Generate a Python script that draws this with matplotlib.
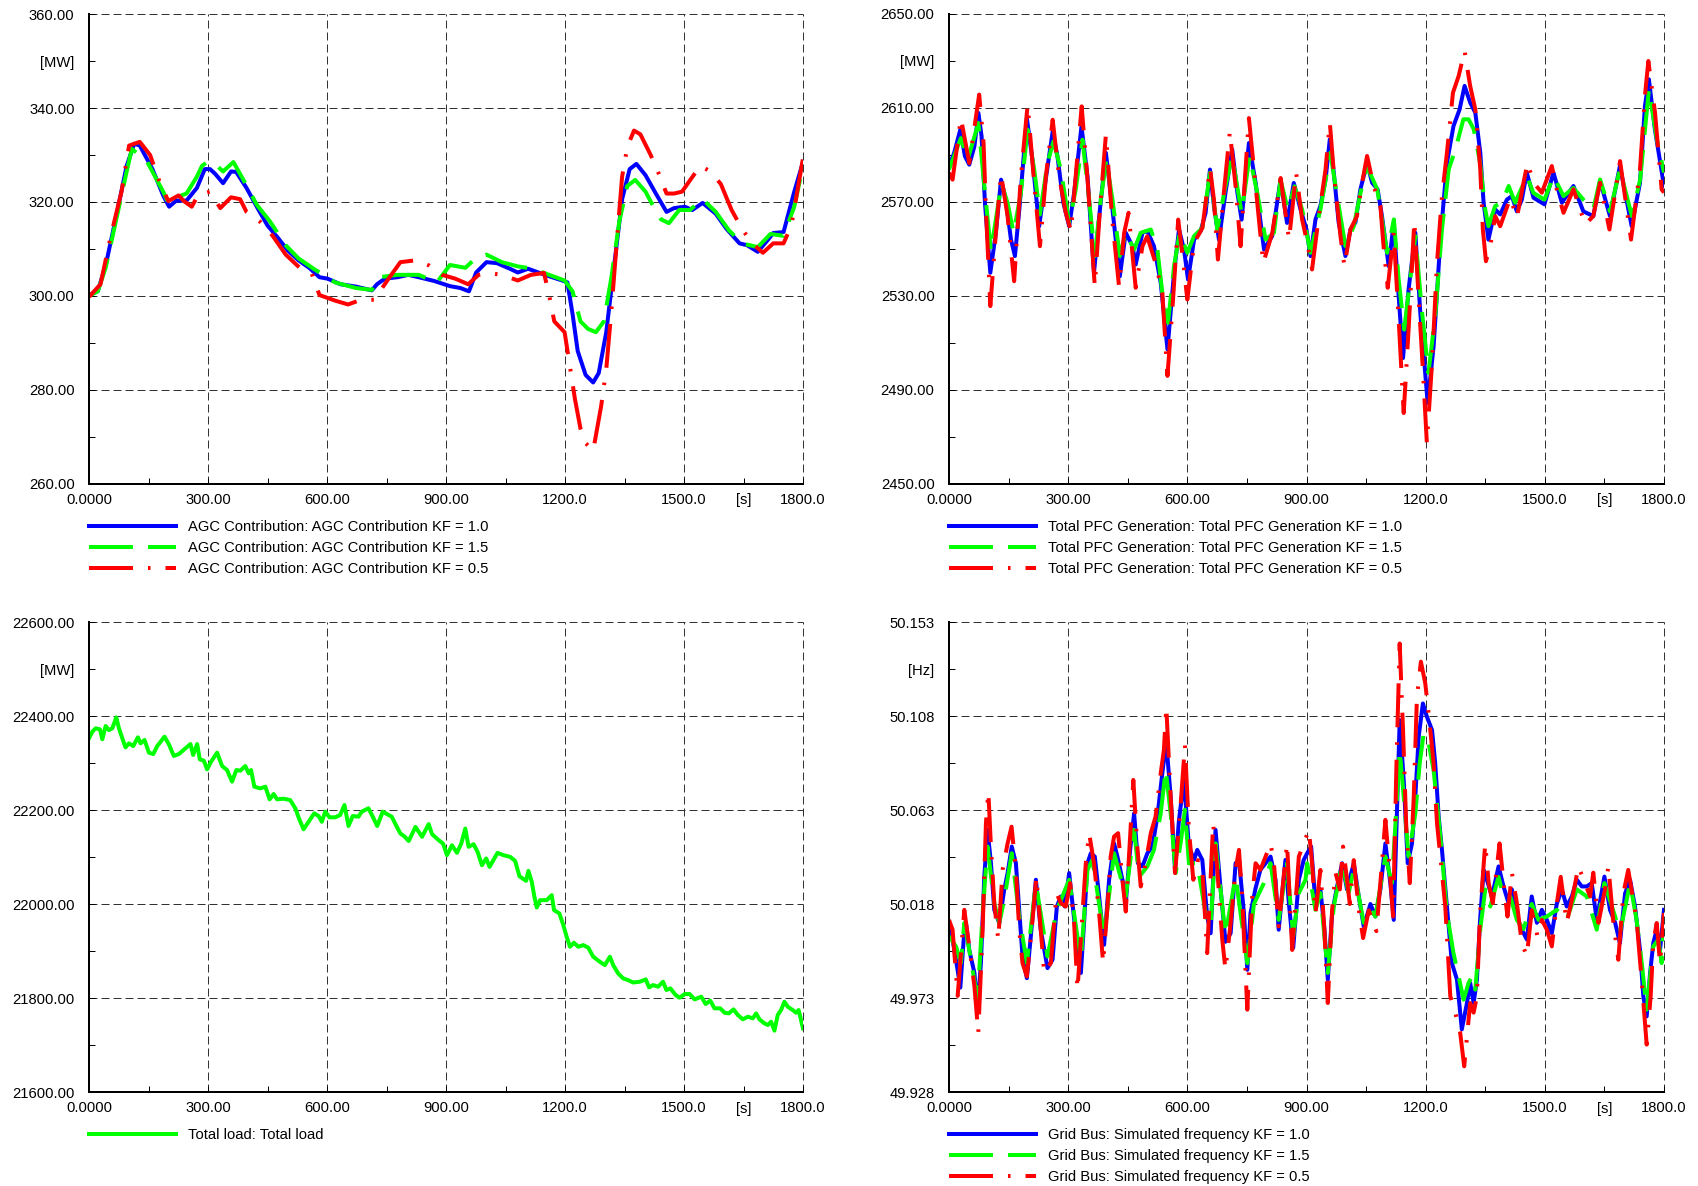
import matplotlib
matplotlib.use("Agg")
import matplotlib.pyplot as plt

plt.rcParams['font.family'] = ['Liberation Sans', 'DejaVu Sans']
plt.rcParams['lines.scale_dashes'] = False

# ---------------- common x axis ----------------
x_ticks = [0, 300, 600, 900, 1200, 1500, 1800]
x_tick_labels = ["0.0000", "300.00", "600.00", "900.00", "1200.0", "1500.0", "1800.0"]
x_minor = [150, 450, 750, 1050, 1350, 1650]
x_minor_labels = ["", "", "", "", "", "[s]"]

# ---------------- AGC contribution (top-left) ----------------
agc_t_10 = [0, 22, 42, 68, 95, 114, 128, 160, 187, 202, 220, 246, 272, 292, 305, 318, 338, 358, 371, 397,
            423, 450, 476, 502, 528, 555, 581, 601, 634, 673, 713, 726, 746, 778, 805, 831, 870, 910, 936, 958,
            976, 1002, 1028, 1061, 1081, 1107, 1133, 1160, 1193, 1206, 1219, 1232, 1252, 1271, 1285, 1304, 1324,
            1344, 1363, 1380, 1403, 1429, 1456, 1475, 1502, 1521, 1547, 1580, 1607, 1640, 1659, 1686, 1712, 1725,
            1751, 1778, 1800]
agc_kf10 = [300.2, 301, 306.5, 316.7, 327.7, 332.4, 332, 327, 321.4, 319, 320.3, 320.3, 323, 327, 327, 326, 324,
            326.5, 326.4, 323, 319, 315, 312.4, 309.6, 307.6, 306, 304, 303.7, 302.5, 302, 301.2, 302.5, 303.7, 304,
            304.5, 304, 303.2, 302.1, 301.7, 301, 305, 307.2, 307, 305.8, 305, 305.8, 305, 304.2, 303.3, 302.9,
            296.2, 288.3, 283.2, 281.6, 283.6, 292.3, 306.5, 320.6, 327, 328.1, 325.7, 321.8, 317.9, 318.7, 319,
            318.3, 319.8, 317.5, 314.3, 311.2, 310.8, 309.4, 312, 313.4, 313.6, 322.2, 328.5]
agc_t_15 = [0, 22, 42, 68, 95, 108, 147, 187, 200, 220, 246, 272, 285, 298, 312, 338, 364, 390, 423, 456, 496,
            528, 568, 620, 673, 713, 732, 778, 831, 877, 910, 949, 969, 1002, 1041, 1081, 1120, 1160, 1199, 1219,
            1239, 1258, 1278, 1298, 1317, 1337, 1357, 1377, 1403, 1423, 1442, 1462, 1488, 1515, 1547, 1580, 1613,
            1646, 1686, 1718, 1751, 1778, 1800]
agc_kf15 = [300, 301, 306, 316, 326.5, 331.3, 328.5, 322.2, 319.8, 321, 321.8, 325.4, 327.7, 328.5, 328.5, 326.5,
            328.5, 324.6, 319.4, 315.9, 310.8, 308, 305.7, 302.9, 301.7, 301.3, 304, 304.5, 304.5, 302.9, 306.6,
            306, 307.6, 308.8, 307.2, 306.3, 305.8, 304.5, 303.3, 301, 294.6, 293, 292.3, 294.6, 304, 315.9, 323.4,
            324.7, 322.2, 319, 316.3, 315.5, 318.3, 318.3, 320.6, 317.9, 314, 311.2, 310.4, 313.2, 312.8, 319, 327.7]
agc_t_05 = [0, 29, 55, 82, 101, 128, 154, 180, 200, 226, 239, 259, 276, 305, 331, 358, 381, 397, 430, 463, 496,
            535, 561, 581, 621, 653, 686, 719, 752, 785, 824, 857, 890, 923, 956, 982, 1008, 1041, 1081, 1114,
            1147, 1160, 1173, 1199, 1212, 1225, 1239, 1252, 1271, 1291, 1304, 1317, 1331, 1344, 1357, 1374, 1390,
            1416, 1436, 1456, 1475, 1495, 1515, 1541, 1567, 1593, 1620, 1646, 1672, 1699, 1725, 1751, 1771, 1800]
agc_kf05 = [299.8, 302.5, 312.8, 322.2, 332, 332.8, 330, 323.8, 320.2, 321.4, 320.2, 319, 321.6, 322.2, 318.7, 321,
            320.6, 317.9, 315.9, 312.8, 308.8, 305.7, 304.9, 300.2, 299, 298.2, 299.2, 299.2, 303.3, 307.2, 307.6,
            306.5, 304.5, 303.7, 302.5, 304.5, 304.9, 304.5, 303.3, 304.5, 304.9, 300.2, 294.6, 292.3, 285.2, 278.1,
            271.8, 268.7, 267.1, 276.5, 284.4, 297, 312, 325.4, 331.7, 335.2, 334.4, 330, 326.1, 321.8, 321.8,
            322.2, 324.6, 327.7, 326.5, 323.8, 318.3, 314.3, 311.2, 309.2, 311.2, 311.2, 315.1, 329.3]

# ---------------- Total PFC generation (top-right) ----------------
pfc_t_10 = [0, 13, 28.5, 40, 51, 64, 74, 82, 90.5, 104, 118, 131, 143, 156, 166, 177, 196, 210, 227, 241, 261,
            273, 288, 302.5, 315, 333.5, 348.6, 365, 380, 395, 411.5, 430, 445, 462, 470, 487, 499.5, 516, 533,
            550, 566.5, 579, 591.6, 601.7, 617, 633.5, 646, 657, 667, 679.6, 696, 713, 726, 736.6, 755, 772, 793,
            813.7, 834.6, 851, 868, 885,
            900, 910, 922.6, 935, 948, 958.7, 968.7, 981, 998, 1010.6, 1023, 1035.7, 1052.5, 1065, 1079, 1090,
            1107, 1119.5, 1132, 1143, 1157, 1174, 1186.5, 1205, 1220, 1237, 1253.6, 1270, 1285.4, 1298, 1312, 1325,
            1337.5, 1345.8, 1358, 1375, 1387.7, 1404.4, 1417, 1429.6, 1442, 1454.7, 1471.5, 1499, 1521.8, 1542.8,
            1572, 1597, 1622, 1639, 1664, 1689, 1718.6, 1739.6, 1752, 1762, 1777, 1800]
pfc_kf10 = [2585.2, 2590.9, 2600.8, 2589.5, 2585.9, 2593.7, 2607.9, 2598, 2569.6, 2539.9, 2556.9, 2579.5, 2571,
            2554, 2547, 2566.8, 2605.7, 2588, 2559.7, 2576.7, 2600, 2589.5, 2569.6, 2559.7, 2573.9, 2602.2, 2581,
            2539.9, 2566.8, 2590.9, 2566.8, 2538.4, 2556.9, 2551.2, 2543.4, 2556.9, 2557.6, 2551.2, 2535.6, 2507.3,
            2539.9, 2558.3, 2549.8, 2537, 2554, 2557.6, 2565.4, 2583.8, 2568.2, 2554, 2573.9, 2592.3, 2573.9, 2562.5,
            2595.1, 2578.1, 2549.8, 2555.5, 2579.5, 2561.1, 2578.1, 2566.8,
            2558.3, 2547, 2562.6, 2568.3, 2579.6, 2596.7, 2582.5, 2561.2, 2547, 2558.3, 2561.2, 2575.4, 2586.7,
            2578.2, 2575.4, 2564, 2542.7, 2561.2, 2530, 2503.6, 2532.8, 2556.9, 2522.8, 2484.5, 2508.6, 2554,
            2586.7, 2602.3, 2609.4, 2619.4, 2612.3, 2608, 2591, 2569.7, 2554, 2566.8, 2564.7, 2571, 2572.5, 2566,
            2571, 2582.5, 2571.8, 2569, 2582.5, 2569.7, 2576.8, 2566, 2564, 2578.9, 2564, 2585.3, 2559.7, 2578.2,
            2610.9, 2622.2, 2601, 2576.8]
pfc_t_15 = [0, 30, 47, 74, 89, 105.6, 132, 147.5, 162.6, 181, 197.8, 214.5, 228.8, 248, 263, 281.6, 302.5, 319,
            336, 352.8, 367, 382, 396, 411.5, 430, 445, 466, 482.7, 508, 524.6, 537, 551.4, 566.5, 580.7, 600, 617,
            637.7, 657, 675.4, 696, 713, 736.6, 756.7, 776, 797, 818, 834.6, 853, 870, 889,
            910, 935, 960, 977, 998, 1019, 1036, 1052, 1078, 1103, 1120, 1132, 1146, 1161, 1174, 1191, 1207, 1224,
            1241, 1258, 1275, 1295, 1308, 1321, 1337, 1350, 1358, 1375, 1392, 1409, 1425, 1455, 1471, 1499, 1522,
            1547, 1572, 1597, 1622, 1639, 1664, 1689, 1719, 1740, 1762, 1782, 1800]
pfc_kf15 = [2583.8, 2597.2, 2588, 2603.6, 2576.7, 2549, 2578, 2569.6, 2556.9, 2573.9, 2600.8, 2583.8, 2564.7,
            2586.6, 2595.8, 2583.8, 2561, 2575.3, 2596.5, 2571, 2547, 2571, 2588, 2571, 2547, 2556.9, 2549.8,
            2556.9, 2558.3, 2549.8, 2531.4, 2518.6, 2542.7, 2556.9, 2548.4, 2555.5, 2559, 2582.4, 2558.3, 2576.7,
            2589.5, 2565.4, 2589.5, 2573.9, 2554, 2556.9, 2579.5, 2566.8, 2576.7, 2566.8,
            2548.4, 2566.8, 2591, 2572.5, 2551.2, 2559.7, 2573.9, 2585.3, 2575.4, 2548.4, 2562.6, 2537, 2515.7,
            2537, 2555.5, 2522.8, 2497.3, 2521.4, 2558.3, 2583.9, 2592.4, 2605.2, 2605.2, 2601, 2586.7, 2566.8,
            2559.7, 2568.3, 2569.7, 2576.8, 2569.7, 2581, 2573.9, 2571, 2581, 2572.5, 2576, 2571, 2566.8, 2579.6,
            2566, 2583.9, 2564, 2579.6, 2618, 2596.7, 2582.5]
pfc_t_05 = [0, 9, 30, 51, 76, 87, 93, 104, 118, 131, 147.5, 164, 181, 198, 213, 229, 244, 261, 277, 294, 307,
            319, 334, 350, 367, 380, 395, 411, 428, 441, 452, 470, 487, 499, 520, 537, 550, 564, 577, 590, 600, 617,
            638, 657, 667, 677, 692, 707, 721.5, 734, 755, 772, 791, 814, 835, 856, 874, 889,
            902, 914, 931, 948, 958.7, 968.7, 985.5, 995.5, 1010.6, 1027, 1040, 1052.5, 1069, 1086, 1094, 1104.5,
            1119.6, 1132, 1144.7, 1157, 1171.5, 1182, 1193, 1203, 1216, 1228.5, 1241, 1253.6, 1268.7, 1283, 1298,
            1312, 1325, 1337.5, 1344, 1351.7, 1362.6, 1375, 1387.7, 1413, 1429.6, 1444.7, 1456.4, 1471.5, 1492.5,
            1517.6, 1530, 1547, 1572, 1601.4, 1622, 1639, 1662.6, 1689.4, 1717, 1739.6, 1752, 1760.6, 1777.4, 1794,
            1800]
pfc_kf05 = [2582.4, 2579.5, 2605.7, 2586.6, 2615.7, 2595, 2566.8, 2525.7, 2556.9, 2581.7, 2564, 2536.3, 2581,
            2611.4, 2581, 2551.2, 2581, 2605, 2581, 2565.4, 2557.6, 2581, 2610.7, 2576.7, 2534.2, 2566.8, 2598.7,
            2562.5, 2534.2, 2556.9, 2565.4, 2533.5, 2551.2, 2555.4, 2544, 2531.4, 2496, 2528.5, 2562.5, 2544,
            2528.5, 2552.6, 2559, 2584.5, 2571, 2545.5, 2573.9, 2600, 2576.7, 2551.2, 2605.7, 2576.7, 2544, 2556.9,
            2580.2, 2554, 2582.4, 2562.5,
            2552.6, 2541.3, 2564, 2583.9, 2603.8, 2582.5, 2555.5, 2542.7, 2558.3, 2564, 2578.2, 2589.6, 2576.8,
            2568.3, 2551.2, 2533.5, 2556.9, 2520, 2480.2, 2515.7, 2561.9, 2529.9, 2498.7, 2467.4, 2501.5, 2544.1,
            2572.5, 2591, 2616.5, 2623.6, 2634.3, 2619.4, 2609.4, 2583.9, 2558.3, 2544.8, 2551.2, 2564, 2559.7,
            2571.8, 2563.3, 2576.8, 2586.7, 2578.2, 2574, 2585.3, 2575.4, 2565.4, 2575.4, 2560.4, 2564, 2578.2,
            2558.3, 2587.4, 2554, 2583.9, 2615.1, 2630, 2608, 2575.4, 2574]

# ---------------- Total load (bottom-left) ----------------
load_t = [0, 8.4, 16.8, 27.7, 33.5, 42, 50.3, 58.7, 68.8, 75.5, 84, 92, 100.6, 111.5, 123.3, 130, 140, 151, 161.9,
          172, 190.4, 201, 213.9, 226.4, 243, 255.8, 262.5, 272.6, 279.3, 289.4, 297.7, 307.8, 322.9, 335.5, 348,
          360.6, 371.5, 381.6, 394, 402.6, 408.5, 416.8, 431.9, 444.5, 455.4, 465.5, 474, 490.6, 507.4, 520, 530.9,
          541, 553.6, 567.8, 578.7, 587, 595.5, 606.4, 620.6, 633.2, 644, 654.2, 665, 679.3, 687.7, 704.5, 715.4,
          726.5, 740.6, 750.6, 763.2, 775.8,
          785, 795, 806, 823, 839.6, 856.3, 864.8, 881.6, 892.5, 902.5, 915, 927.7, 938.5, 948.6, 957, 969.5,
          979.6, 990.5, 1001.4, 1009.8, 1029.9, 1045, 1061.7, 1074.3, 1085.2, 1101.9, 1107.8, 1116.2, 1122.9,
          1128.8, 1137.2, 1153.9, 1166.5, 1172.4, 1185.8, 1195.8, 1204.2, 1212.6, 1222.6, 1233.5, 1246, 1258.7,
          1271.2, 1288, 1300.6, 1313.2, 1321.5, 1334, 1346.7, 1359.2, 1371.8, 1388.5, 1403.6, 1412, 1422, 1434.6,
          1447.2, 1455.6, 1465.6, 1479, 1489, 1501.7, 1514.3, 1526.8, 1543.6, 1554.5, 1566.2, 1577, 1591.4,
          1602.2, 1613, 1624.9, 1635.8, 1648.3, 1661, 1673.5, 1681.9, 1690.2, 1702.8, 1711.2, 1719.6, 1728,
          1736.3, 1744.7, 1753.1, 1761.5, 1774, 1782.4, 1789, 1800]
load_mw = [22352.5, 22366.7, 22373.8, 22371.6, 22350.4, 22378.7, 22370, 22373.8, 22397, 22373.8, 22352.5, 22333.3,
           22341.8, 22336, 22354.6, 22341.8, 22349, 22322, 22319, 22336, 22356, 22340.4, 22315, 22319, 22331,
           22340.4, 22317, 22340.4, 22307.8, 22305, 22286.5, 22302.8, 22322, 22293.6, 22285, 22260.3, 22285,
           22283.7, 22293.6, 22278, 22285, 22249.6, 22246, 22249.6, 22222.7, 22234, 22222.7, 22224, 22221, 22203.6,
           22178.7, 22159, 22175, 22193, 22187.2, 22175, 22196.5, 22184.4, 22184.4, 22189.4, 22210.6, 22166,
           22187.2, 22185.8, 22196.5, 22203.6, 22185.8, 22166, 22196.5, 22191.5, 22185.8, 22164.6,
           22150, 22144, 22134, 22164, 22143, 22170, 22148.5, 22135.7, 22128.6, 22104, 22125, 22109, 22128.6,
           22160.5, 22121.6, 22127.2, 22111, 22082.6, 22096.8, 22079, 22108.8, 22103.8, 22100.3, 22091.8, 22059,
           22049.3, 22070.5, 22047.2, 22015.3, 21992.6, 22008.2, 22008.2, 22018.8, 21987, 21980, 21955, 21930.3,
           21909, 21917.5, 21909, 21912.6, 21907, 21887.8, 21877, 21870, 21887.8, 21870, 21852.3, 21841.7, 21838,
           21833, 21834.6, 21839.6, 21822.6, 21827.5, 21824, 21834.6, 21817, 21820.5, 21806.3, 21800.6, 21808.4,
           21808.4, 21797, 21802.8, 21787.2, 21794.3, 21778, 21778, 21768.7, 21767.3, 21775.8, 21763.8, 21754.6,
           21760.2, 21756.7, 21767.3, 21754.6, 21746, 21742.5, 21749.6, 21730.5, 21763.8, 21774.4, 21792, 21781.5,
           21774.4, 21768.7, 21774.4, 21735.4]

# ---------------- Grid bus frequency (bottom-right) ----------------
freq_t_10 = [0, 9, 17.6, 28.5, 37, 42.7, 51, 64, 72, 80.4, 88.8, 97, 105.6, 114, 126.5, 139, 147.5, 158, 168.4,
             176.8, 185, 196, 206, 218.7, 231, 248, 260.6, 271.5, 281.6, 291.6, 302.5, 313.4, 323.5, 332, 340,
             348.6, 357, 367, 378, 390.5, 403, 415.6, 424, 436.6, 445, 456, 466, 476, 487, 499.4, 512, 524.6, 537,
             547, 558, 569, 579, 591.6, 604, 617, 625, 637.7, 650, 658.7, 671, 684, 696, 709, 721.5, 730, 742.5,
             751, 759, 771.8, 784, 797, 809.5, 822, 830, 847, 855.6, 866.5, 880.7, 893,
             901.7, 911.7, 922.6, 935, 945, 953.6, 964.5, 977, 989.7, 1002, 1019, 1031.6, 1044, 1061, 1073.5, 1086,
             1098.6, 1111, 1119.6, 1128, 1134.6, 1144.7, 1154.8, 1165.6, 1174, 1182.4, 1193, 1203, 1216, 1224,
             1232.7, 1241, 1253.6, 1266, 1278.8, 1291, 1304, 1312, 1320.7, 1329, 1337, 1346, 1354, 1366.8, 1383.5,
             1396, 1408.7, 1417, 1429.6, 1442, 1454.7, 1467, 1480, 1492.5, 1505, 1517.6, 1530, 1542.7, 1555, 1568,
             1580.5, 1593, 1605.6, 1618, 1630.7, 1650, 1664, 1677, 1689, 1702, 1714.5, 1727, 1739.6, 1748, 1756.4,
             1765, 1773, 1781.6, 1790, 1800]
freq_kf10 = [50.0057, 50.001, 49.9913, 49.978, 50.001, 50.0089, 49.996, 49.985, 49.9674, 49.99, 50.031, 50.0535,
             50.0375, 50.0152, 50.0089, 50.0248, 50.0328, 50.0455, 50.0375, 50.0152, 49.993, 49.9825, 50.0025,
             50.0296, 50.0057, 49.9873, 49.9913, 50.0168, 50.0216, 50.0168, 50.0328, 50.0136, 49.996, 49.985,
             50.0089, 50.0375, 50.0423, 50.0407, 50.0216, 49.9985, 50.0296, 50.047, 50.0407, 50.0296, 50.0184,
             50.0439, 50.0614, 50.0375, 50.036, 50.0423, 50.0455, 50.0598, 50.0806, 50.0957, 50.0694, 50.0344,
             50.0583, 50.0774, 50.0455, 50.0391, 50.0439, 50.0391, 50.012, 50.004, 50.0535, 50.0248, 49.9999,
             50.004, 50.0375, 50.0391, 50.0136, 49.9865, 50.0136, 50.0256, 50.0344, 50.0375, 50.0407, 50.0296,
             50.0057, 50.0391, 50.0184, 49.997, 50.0296, 50.0391,
             50.0423, 50.0455, 50.018, 50.025, 50.006, 49.9818, 50.0136, 50.0264, 50.0375, 50.025, 50.0375,
             50.0216, 50.0073, 50.018, 50.012, 50.025, 50.047, 50.028, 50.0104, 50.0646, 50.106, 50.0774, 50.0375,
             50.047, 50.0694, 50.0981, 50.114, 50.1077, 50.1013, 50.0854, 50.06, 50.044, 50.0168, 49.9897, 49.9818,
             49.958, 49.9706, 49.9802, 49.9706, 49.9818, 50.0104, 50.0343, 50.0296, 50.0216, 50.036, 50.0264,
             50.0184, 50.025, 50.012, 50.0057, 50.001, 50.0216, 50.009, 50.0152, 50.0104, 50.004, 50.018, 50.025,
             50.0168, 50.0216, 50.0296, 50.0264, 50.0264, 50.028, 50.0104, 50.0311, 50.0152, 50.009, 49.9993,
             50.023, 50.0296, 50.0168, 49.996, 49.9738, 49.9642, 49.985, 49.9993, 50.0057, 49.996, 50.0152]
freq_t_15 = [0, 17.6, 30, 38.5, 51, 72, 84.6, 97, 114, 126.5, 139, 158, 176.8, 196, 218.7, 248, 271.5, 302.5, 332,
             348.6, 361, 390.5, 415.6, 445, 466, 478.5, 499.4, 516, 533, 545.5, 558, 570.7, 583, 594, 604, 625, 650,
             658.7, 671, 696, 721.5, 751, 767.6, 792.7, 809.5, 830, 851, 866.5, 880.7, 897.5,
             901.7, 922.6, 935, 953.6, 968.7, 989.7, 1006, 1019, 1044, 1061, 1073.5, 1098.6, 1115, 1128, 1134.6,
             1144.7, 1157, 1174, 1185, 1195, 1207.5, 1220, 1237, 1253.6, 1270, 1283, 1295.5, 1308, 1316.5, 1325,
             1337.5, 1350, 1362.6, 1383.5, 1396, 1413, 1429.6, 1446, 1467, 1484, 1505, 1530, 1555, 1580.5, 1605.6,
             1630.7, 1650, 1677, 1689, 1714.5, 1731, 1744, 1756.4, 1773, 1785.7, 1794, 1800]
freq_kf15 = [50.0025, 49.9977, 49.9897, 50.0089, 49.996, 49.9722, 50.0136, 50.0455, 50.0184, 50.0089, 50.02,
             50.0423, 50.012, 49.9897, 50.028, 49.9929, 50.0152, 50.0296, 49.9913, 50.0344, 50.0391, 50.0025,
             50.0423, 50.0216, 50.0535, 50.031, 50.036, 50.0439, 50.0614, 50.0822, 50.0614, 50.0328, 50.047,
             50.0631, 50.0375, 50.0375, 50.0089, 50.0073, 50.047, 50.0033, 50.0312, 49.9897, 50.018, 50.028,
             50.0375, 50.0104, 50.0375, 50.0025, 50.0232, 50.0296,
             50.0375, 50.0152, 50.0232, 49.985, 50.0168, 50.0375, 50.0232, 50.0344, 50.009, 50.0152, 50.012,
             50.0407, 50.028, 50.0694, 50.0918, 50.0694, 50.0407, 50.0614, 50.0854, 50.0997, 50.095, 50.082,
             50.0503, 50.0136, 49.9945, 49.9833, 49.9722, 49.9802, 49.9833, 49.977, 50.006, 50.025, 50.0168,
             50.031, 50.0216, 50.0216, 50.0104, 50.006, 50.018, 50.0104, 50.012, 50.0152, 50.0104, 50.025,
             50.0216, 50.0057, 50.028, 50.012, 50.0041, 50.028, 50.0104, 49.9897, 49.9674, 49.9977, 50.001,
             49.9897, 50.012]
freq_t_05 = [0, 9, 21.8, 38.5, 51, 64, 73.7, 84.6, 93, 99, 105.6, 114, 124, 135, 147.5, 157.5, 168.4, 176.8, 185,
             196, 208, 220, 229.6, 239.7, 256.4, 270.7, 281.6, 294, 305, 315, 323.5, 336, 344.4, 352.8, 365, 378,
             388, 399, 407, 415.6, 425.7, 436.6, 445, 456, 464, 474, 482.7, 495, 508, 520, 533, 541, 547, 558, 569,
             581.6, 594, 604, 615, 627, 637.7, 650, 665, 675.4, 688, 696, 709, 721.5, 730, 738, 751, 763.4, 771.8,
             784, 797, 809.5, 818, 830, 851, 864, 880.7, 893,
             905.9, 914, 922.6, 935, 945, 953.6, 964.5, 973, 984, 992, 1002, 1009, 1019, 1031.6, 1042.5, 1056.7,
             1076, 1090, 1098.6, 1109.5, 1118, 1126.5, 1134.6, 1143, 1151.4, 1160, 1170, 1178, 1188, 1199, 1207.5,
             1220, 1228.5, 1237, 1249.4, 1262, 1274.6, 1287, 1297, 1304, 1312, 1320.7, 1329, 1337, 1350, 1358.6,
             1369, 1386, 1398, 1406, 1417, 1429.6, 1442, 1454.7, 1467, 1481.6, 1492.5, 1505, 1517.6, 1530, 1540,
             1555, 1570, 1584.6, 1601, 1614, 1622, 1635, 1651.5, 1660, 1672.6, 1685, 1697.6, 1710, 1721, 1731,
             1743.6, 1756.4, 1766.4, 1773, 1781.6, 1790, 1800]
freq_kf05 = [50.0104, 50.0057, 49.974, 50.0152, 49.9977, 49.9786, 49.9562, 50.0057, 50.0567, 50.0718, 50.0455,
             50.0184, 50.0009, 50.0344, 50.047, 50.055, 50.0344, 50.0057, 49.9897, 49.9833, 50.0057, 50.031,
             50.0089, 49.985, 49.9898, 50.0232, 50.0184, 50.0168, 50.028, 50.0089, 49.977, 50.0136, 50.0375,
             50.0519, 50.0375, 50.0136, 49.9897, 50.0168, 50.0407, 50.0503, 50.0519, 50.0296, 50.0144, 50.0503,
             50.0774, 50.0455, 50.0264, 50.0375, 50.0519, 50.0598, 50.0806, 50.0917, 50.1125, 50.0694, 50.0328,
             50.0614, 50.0941, 50.0535, 50.0296, 50.039, 50.0344, 49.9945, 50.0567, 50.0344, 50.0009, 49.9865,
             50.0089, 50.0344, 50.0439, 50.0216, 49.9674, 50.0216, 50.0375, 50.0344, 50.0407, 50.047, 50.0375,
             50.0073, 50.047, 49.996, 50.0407, 50.047,
             50.0535, 50.0375, 50.0136, 50.0343, 50.006, 49.9706, 50.0152, 50.033, 50.025, 50.0455, 50.0296,
             50.018, 50.039, 50.0152, 50.0017, 50.015, 50.005, 50.0375, 50.0583, 50.0343, 50.012, 50.0854,
             50.1427, 50.1013, 50.0535, 50.028, 50.0694, 50.117, 50.134, 50.1236, 50.109, 50.0854, 50.0567,
             50.0407, 50.0168, 49.9738, 49.966, 49.9562, 49.9403, 49.9546, 49.9706, 49.966, 49.9738, 50.0136,
             50.047, 50.028, 50.0184, 50.047, 50.025, 50.012, 50.033, 50.0184, 49.9993, 49.993, 50.015, 50.0025,
             50.0104, 50.0057, 49.9977, 50.018, 50.031, 50.009, 50.0216, 50.036, 50.028, 50.0216, 50.033, 50.009,
             50.025, 50.036, 50.009, 49.9913, 50.023, 50.0343, 50.0216, 50.0104, 49.9818, 49.9507, 49.9738,
             49.9993, 50.0089, 49.9897, 50.0136]

# ---------------- styling ----------------
W, H, DPI = 1698, 1186, 100
PX = 72.0 / DPI          # points per pixel
FS = 10.6
BLUE, GREEN, RED = '#0000FF', '#00FF00', '#FF0000'
LW = 4 * PX
GREEN_DASH = (0, (44 * PX, 15 * PX))
RED_DASH = (0, (44 * PX, 15 * PX, 2.5 * PX, 15 * PX))

fig = plt.figure(figsize=(W / DPI, H / DPI), dpi=DPI)


def rect(left, top, right, bottom):
    return [left / W, 1 - bottom / H, (right - left) / W, (bottom - top) / H]


def setup(ax, ylim, yticks, yfmt, unit):
    ax.set_xlim(0, 1800)
    ax.set_ylim(*ylim)
    ax.set_xticks(x_ticks, x_tick_labels)
    ax.set_xticks(x_minor, x_minor_labels, minor=True)
    ax.set_yticks(yticks, [yfmt % v for v in yticks])
    ymin = [(a + b) / 2 for a, b in zip(yticks[:-1], yticks[1:])]
    ylab = [''] * len(ymin)
    ylab[-1] = unit
    ax.set_yticks(ymin, ylab, minor=True)
    ax.tick_params(which='both', direction='in', length=6 * PX, width=1 * PX,
                   labelsize=FS, colors='black')
    ax.tick_params(axis='y', which='both', pad=14.5 * PX)
    ax.tick_params(axis='x', which='both', pad=9.5 * PX)
    ax.grid(True, which='major', color='#333333', linestyle=(0, (8 * PX, 4 * PX)), linewidth=1 * PX)
    for gl in ax.get_xgridlines() + ax.get_ygridlines():
        gl.set_clip_on(False)
    for s in ('top', 'right'):
        ax.spines[s].set_visible(False)
    for s in ('left', 'bottom'):
        ax.spines[s].set_linewidth(2 * PX)
        ax.spines[s].set_color('black')
    ax.set_facecolor('white')


def legend(ax):
    ax.legend(loc='upper left', bbox_to_anchor=(0, -0.0765), frameon=False, fontsize=FS,
              handlelength=87 * PX / FS, handletextpad=11.7 * PX / FS, labelspacing=0.47,
              borderpad=0, borderaxespad=0)


# top-left
ax1 = fig.add_axes(rect(89, 14, 803, 484))
setup(ax1, (260, 360), [260, 280, 300, 320, 340, 360], '%.2f', '[MW]')
ax1.plot(agc_t_10, agc_kf10, color=BLUE, lw=LW, label='AGC Contribution: AGC Contribution KF = 1.0')
ax1.plot(agc_t_15, agc_kf15, color=GREEN, lw=LW, linestyle=GREEN_DASH,
         label='AGC Contribution: AGC Contribution KF = 1.5')
ax1.plot(agc_t_05, agc_kf05, color=RED, lw=LW, linestyle=RED_DASH,
         label='AGC Contribution: AGC Contribution KF = 0.5')
legend(ax1)

# top-right
ax2 = fig.add_axes(rect(949, 14, 1664, 484))
setup(ax2, (2450, 2650), [2450, 2490, 2530, 2570, 2610, 2650], '%.2f', '[MW]')
ax2.plot(pfc_t_10, pfc_kf10, color=BLUE, lw=LW, label='Total PFC Generation: Total PFC Generation KF = 1.0')
ax2.plot(pfc_t_15, pfc_kf15, color=GREEN, lw=LW, linestyle=GREEN_DASH,
         label='Total PFC Generation: Total PFC Generation KF = 1.5')
ax2.plot(pfc_t_05, pfc_kf05, color=RED, lw=LW, linestyle=RED_DASH,
         label='Total PFC Generation: Total PFC Generation KF = 0.5')
legend(ax2)

# bottom-left
ax3 = fig.add_axes(rect(89, 622, 803, 1092))
setup(ax3, (21600, 22600), [21600, 21800, 22000, 22200, 22400, 22600], '%.2f', '[MW]')
ax3.plot(load_t, load_mw, color=GREEN, lw=LW, label='Total load: Total load')
legend(ax3)

# bottom-right
ax4 = fig.add_axes(rect(949, 622, 1664, 1092))
setup(ax4, (49.928, 50.153), [49.928, 49.973, 50.018, 50.063, 50.108, 50.153], '%.3f', '[Hz]')
ax4.plot(freq_t_10, freq_kf10, color=BLUE, lw=LW, label='Grid Bus: Simulated frequency KF = 1.0')
ax4.plot(freq_t_15, freq_kf15, color=GREEN, lw=LW, linestyle=GREEN_DASH,
         label='Grid Bus: Simulated frequency KF = 1.5')
ax4.plot(freq_t_05, freq_kf05, color=RED, lw=LW, linestyle=RED_DASH,
         label='Grid Bus: Simulated frequency KF = 0.5')
legend(ax4)

fig.savefig('out.png', dpi=DPI, facecolor='white')
